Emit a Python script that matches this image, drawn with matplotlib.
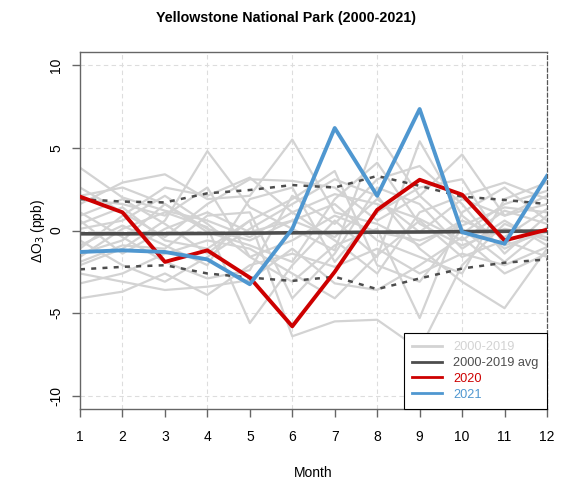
import matplotlib
matplotlib.use("Agg")
import matplotlib.pyplot as plt
import numpy as np

plt.rcParams['font.family'] = ['Liberation Sans', 'DejaVu Sans']

months = list(range(1, 13))

hist_years = [
    [3.8, 2.0, 1.2, 0.6, -0.4, 1.1, 2.2, 1.6, 0.7, -0.6, 1.2, 0.4],
    [-4.1, -3.7, -2.6, -3.9, -2.1, -1.4, -2.2, -1.1, -2.6, -1.4, -2.1, -1.0],
    [1.6, 2.9, 3.4, 1.9, 2.1, 5.5, 1.1, 0.4, -0.9, 0.6, -0.4, 1.3],
    [-2.1, -1.1, 0.6, 4.8, 1.4, 0.1, -1.2, 5.8, 2.1, -0.2, 1.6, 2.4],
    [0.4, 1.4, -0.6, -1.1, 0.6, -6.4, -5.5, -5.4, -7.2, -2.1, 0.4, -0.6],
    [-1.6, 0.1, 1.1, 0.2, -5.6, -2.1, 0.6, -1.6, 5.4, 0.9, -1.1, 0.1],
    [2.6, 1.1, -0.4, 1.6, 3.1, 3.0, 2.6, 0.6, 2.1, 4.6, 0.9, 1.6],
    [-0.6, -2.1, -3.1, -1.6, 0.1, 1.6, 3.1, 2.1, -1.1, -3.1, -4.7, -1.1],
    [0.1, 0.6, 2.1, 0.4, -1.6, -3.1, -0.9, 0.1, -5.3, 1.1, 2.6, 0.6],
    [-3.2, -2.6, -1.4, -0.6, -1.1, -2.6, -4.1, -1.5, 0.6, -1.6, -0.6, -1.6],
    [1.1, -0.4, -1.9, -2.9, -2.4, 2.1, 0.4, 3.1, 3.9, 1.6, -1.4, 0.9],
    [-1.1, 0.9, 2.6, 2.1, 3.2, 1.1, -0.6, -2.6, 1.1, 2.1, 2.9, 1.9],
    [2.1, 2.6, 1.6, -0.1, -0.9, -1.9, 1.9, 4.1, 0.4, -0.9, 0.1, -0.4],
    [-2.6, -3.1, -3.6, -3.4, -3.0, -1.1, -3.2, -3.6, -2.1, -0.4, -2.6, -1.4],
    [0.6, -1.4, 0.1, 1.1, -0.1, 0.6, 1.6, -0.6, -1.6, -2.6, 1.9, 2.9],
    [-0.9, 0.3, -0.9, -2.1, 1.9, 2.6, -1.9, 1.1, 2.6, 3.1, -0.9, -0.1],
    [1.9, 1.6, 0.9, 2.6, -1.6, -0.6, 0.9, -0.1, -0.6, 0.3, 1.4, 1.1],
    [-1.9, -0.9, -1.1, 0.9, 1.1, -4.1, -1.4, 2.6, 1.6, -1.1, 0.6, -0.9],
    [0.9, 1.9, 0.4, -1.4, 0.6, 1.9, 3.6, -2.1, -3.1, 0.1, -1.9, 0.2],
    [-1.4, -0.6, 1.6, 0.1, -0.6, 0.6, -0.4, 1.9, -0.1, 1.9, 0.9, 2.1],
]

avg = [-0.2, -0.2, -0.19, -0.18, -0.16, -0.14, -0.12, -0.1, -0.09, -0.07, -0.05, -0.03]
upper = [1.9, 1.75, 1.7, 2.25, 2.45, 2.75, 2.6, 3.3, 2.7, 2.05, 1.85, 1.6]
lower = [-2.35, -2.2, -2.1, -2.6, -2.85, -3.05, -2.8, -3.55, -2.9, -2.3, -1.95, -1.75]
y2020 = [2.05, 1.1, -1.9, -1.2, -2.85, -5.8, -2.5, 1.25, 3.07, 2.17, -0.6, 0.05]
y2021 = [-1.3, -1.2, -1.3, -1.75, -3.25, 0.1, 6.2, 2.1, 7.35, -0.1, -0.8, 3.3]

C_GRAY = '#D3D3D3'
C_AVG = '#4D4D4D'
C_RED = '#CD0000'
C_BLUE = '#4F97D0'

fig = plt.figure(figsize=(5.61, 4.83), dpi=100)
ax = fig.add_axes([80/561, 1 - 409/483, (547-80)/561, (409-52)/483])

for xv in [2, 4, 6, 8, 10]:
    ax.axvline(xv, color='#DDDDDD', lw=0.8, ls=(0, (4, 3)), zorder=0)
for yv in [-10, -5, 0, 5, 10]:
    ax.axhline(yv, color='#DDDDDD', lw=0.8, ls=(0, (4, 3)), zorder=0)

for i, s in enumerate(hist_years):
    ax.plot(months, s, color=C_GRAY, lw=1.6, zorder=1,
            label='2000-2019' if i == 0 else None)
ax.plot(months, avg, color=C_AVG, lw=2.6, zorder=2, label='2000-2019 avg')
ax.plot(months, upper, color=C_AVG, lw=1.8, ls=(0, (2, 2.5)), zorder=2)
ax.plot(months, lower, color=C_AVG, lw=1.8, ls=(0, (2, 2.5)), zorder=2)
ax.plot(months, y2020, color=C_RED, lw=2.8, zorder=3, label='2020')
ax.plot(months, y2021, color=C_BLUE, lw=2.8, zorder=4, label='2021')

ax.set_xlim(1, 12)
ax.set_ylim(-10.8, 10.8)
ax.set_xticks(months)
ax.set_xticklabels([str(m) for m in months])
ax.set_yticks([-10, -5, 0, 5, 10])
ax.set_yticklabels(['-10', '-5', '0', '5', '10'], rotation=90, va='center')

for sp in ['left', 'bottom', 'top']:
    ax.spines[sp].set_color('#666666')
    ax.spines[sp].set_linewidth(1.0)
ax.spines['right'].set_color('#555555')
ax.spines['right'].set_linestyle((0, (3, 2)))
ax.spines['right'].set_linewidth(0.9)
ax.tick_params(axis='both', direction='out', length=6, width=1.0,
               color='#666666', labelsize=10, pad=6)
ax.tick_params(axis='x', pad=9)

ax.set_xlabel('Month', fontsize=10, labelpad=16)
ax.set_ylabel('ΔO$_3$ (ppb)', fontsize=10, labelpad=2)
fig.suptitle('Yellowstone National Park (2000-2021)', fontsize=10.3,
             fontweight='bold', x=0.51, y=1 - 18/483, va='center')

leg = ax.legend(loc='lower right', bbox_to_anchor=(1.0, 0.0), borderaxespad=0,
                fontsize=9.2, frameon=True, fancybox=False, framealpha=1,
                edgecolor='black', handlelength=2.3, labelspacing=0.3,
                borderpad=0.65, handletextpad=0.9)
leg.get_frame().set_linewidth(0.8)
for txt, c in zip(leg.get_texts(), [C_GRAY, C_AVG, C_RED, C_BLUE]):
    txt.set_color(c)
for h in leg.legend_handles:
    h.set_linewidth(2.0)
leg.set_zorder(10)

fig.savefig('out.png', dpi=100)
